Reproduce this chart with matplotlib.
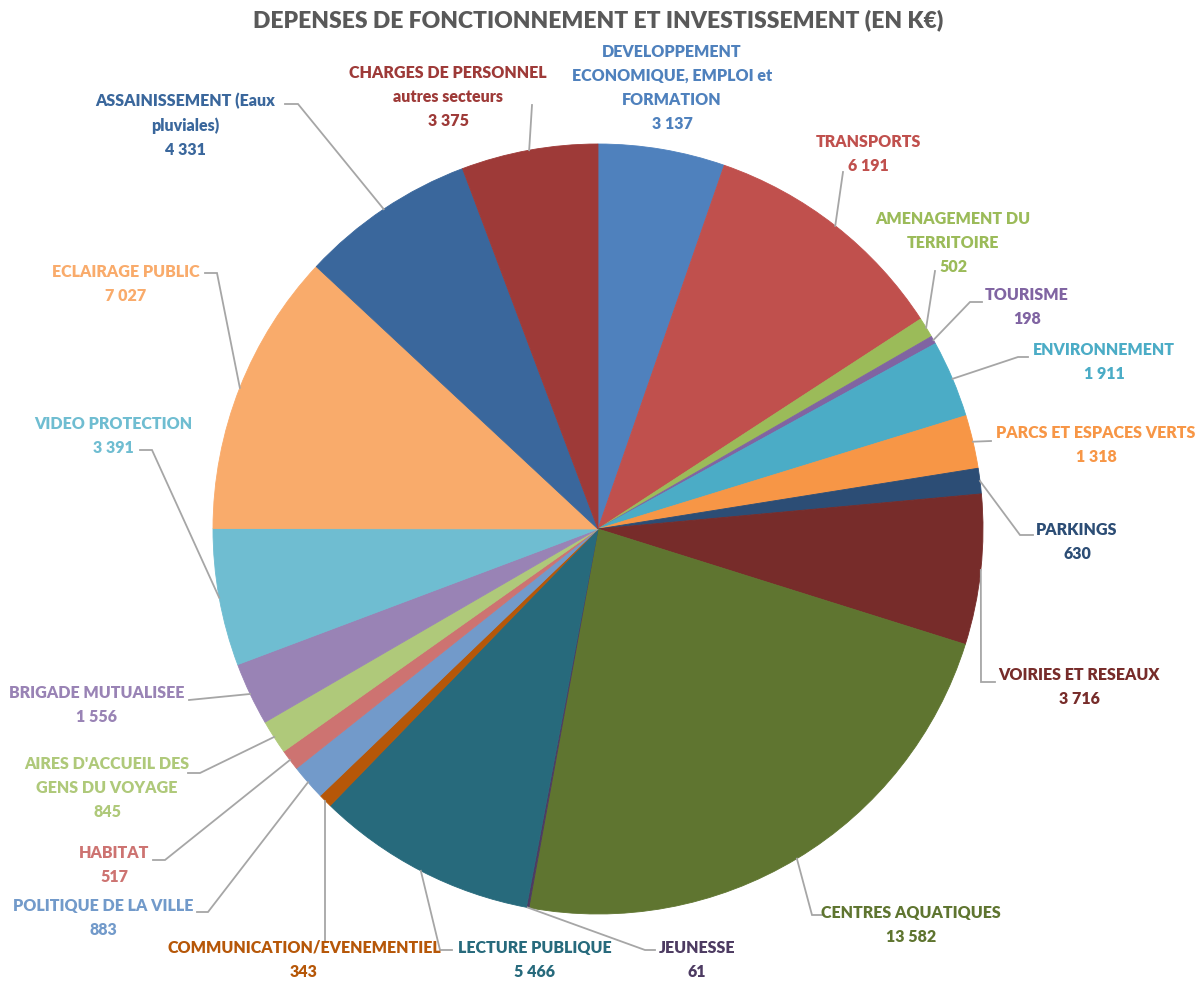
import matplotlib
matplotlib.use("Agg")
import numpy as np
import matplotlib.pyplot as plt

# postes de depense (sens horaire depuis midi)
noms = [
    "DEVELOPPEMENT\nECONOMIQUE, EMPLOI et\nFORMATION",
    "TRANSPORTS",
    "AMENAGEMENT DU\nTERRITOIRE",
    "TOURISME",
    "ENVIRONNEMENT",
    "PARCS ET ESPACES VERTS",
    "PARKINGS",
    "VOIRIES ET RESEAUX",
    "CENTRES AQUATIQUES",
    "JEUNESSE",
    "LECTURE PUBLIQUE",
    "COMMUNICATION/EVENEMENTIEL",
    "POLITIQUE DE LA VILLE",
    "HABITAT",
    "AIRES D'ACCUEIL DES\nGENS DU VOYAGE",
    "BRIGADE MUTUALISEE",
    "VIDEO PROTECTION",
    "ECLAIRAGE PUBLIC",
    "ASSAINISSEMENT (Eaux\npluviales)",
    "CHARGES DE PERSONNEL\nautres secteurs",
]
montants = [3137, 6191, 502, 198, 1911, 1318, 630, 3716, 13582, 61,
            5466, 343, 883, 517, 845, 1556, 3391, 7027, 4331, 3375]

couleurs = [
    "#4F81BD", "#C0504D", "#9BBB59", "#8064A2", "#4BACC6", "#F79646",
    "#2C4D75", "#772C2A", "#5F7530", "#4D3B62", "#276A7C", "#B65708",
    "#729ACA", "#CD7371", "#AFC97A", "#9983B5", "#6FBDD1", "#F9AB6B",
    "#3A679C", "#9E3A38",
]

# mise en page des etiquettes (pixels, origine en haut a gauche)
pos_texte = [
    (672, 88), (868, 154), (953, 243), (1027, 307), (1104, 362),
    (1096, 445), (1077, 542), (1079, 687), (911, 925), (697, 960),
    (535, 960), (304, 960), (103, 918), (114, 865), (107, 788),
    (97, 705), (113, 436), (126, 284), (185, 125), (448, 97),
]
chemins = [
    None, [(843, 172)], [(935, 271)], [(970, 302), (982, 302)],
    [(1018, 357), (1028, 357)], [(991, 441)], [(1020, 535), (1033, 535)],
    [(981, 682), (995, 682)], [(812, 915), (822, 915)],
    [(645, 950), (655, 950)], [(440, 950), (452, 950)], "vertical",
    [(208, 912), (197, 912)], [(165, 860), (153, 860)],
    [(200, 773), (188, 773)], [(189, 700)], [(152, 450), (140, 450)],
    [(217, 273), (205, 273)], [(298, 104), (285, 104)], [(532, 105)],
]

W, H = 1196, 982
CX, CY, R = 598, 529, 385

plt.rcParams['font.family'] = ['Lato', 'DejaVu Sans']

fig = plt.figure(figsize=(W / 100, H / 100), dpi=100)
ax = fig.add_axes([0, 0, 1, 1])


def py(y):
    return H - y


wedges, _ = ax.pie(montants, colors=couleurs, startangle=90, counterclock=False,
                   center=(CX, py(CY)), radius=R, frame=True,
                   wedgeprops=dict(linewidth=0.6))
for w, c in zip(wedges, couleurs):
    w.set_edgecolor(c)
ax.set_xlim(0, W)
ax.set_ylim(0, H)
ax.set_aspect('equal')
ax.axis('off')

for i, w in enumerate(wedges):
    x, y = pos_texte[i]
    txt = noms[i] + "\n" + f"{montants[i]:,}".replace(",", " ")
    ax.text(x, py(y), txt, ha='center', va='center', fontsize=11.5,
            fontweight='heavy', color=couleurs[i], linespacing=1.62)
    chemin = chemins[i]
    if chemin is None:
        continue
    a = np.deg2rad((w.theta1 + w.theta2) / 2)
    ex, ey = CX + R * np.cos(a), CY - R * np.sin(a)
    if chemin == "vertical":
        chemin = [(ex, 942)]
    pts = [(ex, ey)] + chemin
    ax.plot([p[0] for p in pts], [py(p[1]) for p in pts], color='#A6A6A6',
            linewidth=1.3, solid_joinstyle='miter')

ax.text(598, py(20), "DEPENSES DE FONCTIONNEMENT ET INVESTISSEMENT (EN K€)",
        ha='center', va='center', fontsize=16.5, fontweight='heavy', color='#595959')

fig.savefig("out.png", dpi=100)
